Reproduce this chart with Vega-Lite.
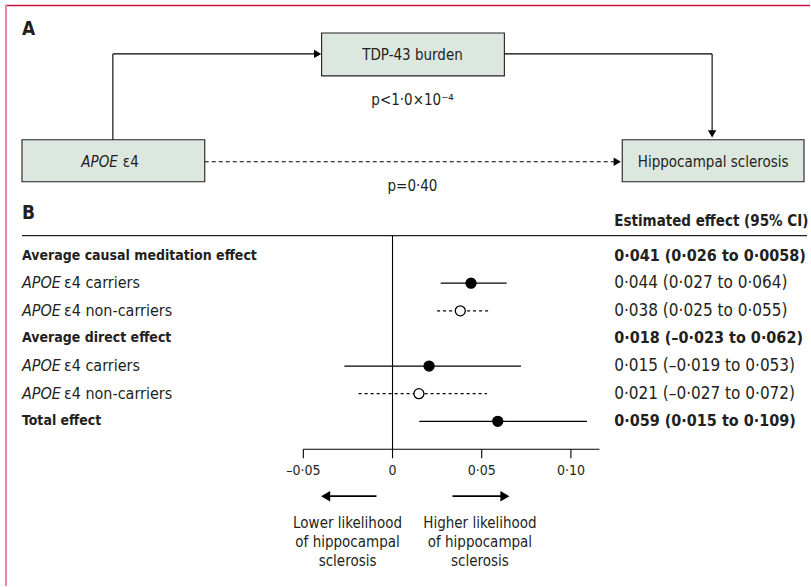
{
  "$schema": "https://vega.github.io/schema/vega-lite/v6.json",
  "width": 811,
  "height": 587,
  "autosize": {"type": "fit", "contains": "padding"},
  "padding": 0,
  "background": "white",
  "config": {
    "view": {"stroke": null},
    "font": "DejaVu Sans Condensed, sans-serif",
    "text": {"font": "DejaVu Sans Condensed, sans-serif", "color": "#231f20", "fontSize": 14}
  },
  "datasets": {
    "one": [{}],
    "boxes": [
      {"node": "TDP-43 burden", "x1": 322, "x2": 505, "y1": 33, "y2": 76},
      {"node": "APOE ε4", "x1": 22, "x2": 205, "y1": 140, "y2": 182},
      {"node": "Hippocampal sclerosis", "x1": 623, "x2": 805, "y1": 140, "y2": 182}
    ],
    "paths": [
      {"path": "mediated", "x1": 113, "y1": 140, "x2": 113, "y2": 54},
      {"path": "mediated", "x1": 113, "y1": 54, "x2": 318, "y2": 54},
      {"path": "mediated", "x1": 505, "y1": 54, "x2": 713, "y2": 54},
      {"path": "mediated", "x1": 713, "y1": 54, "x2": 713, "y2": 133},
      {"path": "direct", "x1": 205, "y1": 162, "x2": 616, "y2": 162}
    ],
    "heads": [
      {"dir": "right", "x": 318, "y": 54},
      {"dir": "down", "x": 713, "y": 134},
      {"dir": "right", "x": 618, "y": 162}
    ],
    "labelsA": [
      {"t": "TDP-43 burden", "x": 413, "y": 55},
      {"t": "Hippocampal sclerosis", "x": 714, "y": 162},
      {"t": "p<1·0×10⁻⁴", "x": 413, "y": 100},
      {"t": "p=0·40", "x": 413, "y": 186}
    ],
    "rows": [
      {"row": 1, "kind": "header", "label": "Average causal meditation effect", "group": "all", "ci": "0·041 (0·026 to 0·0058)"},
      {"row": 2, "kind": "sub", "label": "ε4 carriers", "group": "carriers", "est": 0.044, "lo": 0.027, "hi": 0.064, "ci": "0·044 (0·027 to 0·064)"},
      {"row": 3, "kind": "sub", "label": "ε4 non-carriers", "group": "non-carriers", "est": 0.038, "lo": 0.025, "hi": 0.055, "ci": "0·038 (0·025 to 0·055)"},
      {"row": 4, "kind": "header", "label": "Average direct effect", "group": "all", "ci": "0·018 (–0·023 to 0·062)"},
      {"row": 5, "kind": "sub", "label": "ε4 carriers", "group": "carriers", "est": 0.0205, "lo": -0.027, "hi": 0.072, "ci": "0·015 (–0·019 to 0·053)"},
      {"row": 6, "kind": "sub", "label": "ε4 non-carriers", "group": "non-carriers", "est": 0.0148, "lo": -0.019, "hi": 0.053, "ci": "0·021 (–0·027 to 0·072)"},
      {"row": 7, "kind": "header", "label": "Total effect", "group": "all", "est": 0.059, "lo": 0.015, "hi": 0.109, "ci": "0·059 (0·015 to 0·109)"}
    ],
    "ticks": [
      {"v": -0.05, "lab": "–0·05"},
      {"v": 0, "lab": "0"},
      {"v": 0.05, "lab": "0·05"},
      {"v": 0.1, "lab": "0·10"}
    ],
    "arrows": [
      {"side": "lower", "from": -0.009, "to": -0.0375, "mid": -0.0252, "t": "Lower likelihood\nof hippocampal\nsclerosis"},
      {"side": "higher", "from": 0.0336, "to": 0.063, "mid": 0.049, "t": "Higher likelihood\nof hippocampal\nsclerosis"}
    ]
  },
  "resolve": {"scale": {"x": "independent", "y": "independent", "shape": "independent", "fill": "independent", "strokeDash": "independent"}},
  "layer": [
    {
      "layer": [
        {
          "data": {"name": "boxes"},
          "mark": {"type": "rect", "fill": "#dce7df", "stroke": "#231f20", "strokeWidth": 1.1},
          "encoding": {
            "x": {"field": "x1", "type": "quantitative", "scale": {"domain": [0, 811], "nice": false, "zero": false}, "axis": null},
            "x2": {"field": "x2"},
            "y": {"field": "y1", "type": "quantitative", "scale": {"domain": [0, 587], "nice": false, "zero": false, "reverse": true}, "axis": null},
            "y2": {"field": "y2"}
          }
        },
        {
          "data": {"name": "paths"},
          "mark": {"type": "rule", "color": "#000000", "strokeWidth": 1.1},
          "encoding": {
            "x": {"field": "x1", "type": "quantitative", "scale": {"domain": [0, 811], "nice": false, "zero": false}, "axis": null},
            "x2": {"field": "x2"},
            "y": {"field": "y1", "type": "quantitative", "scale": {"domain": [0, 587], "nice": false, "zero": false, "reverse": true}, "axis": null},
            "y2": {"field": "y2"},
            "strokeDash": {"field": "path", "type": "nominal", "scale": {"domain": ["mediated", "direct"], "range": [[1, 0], [4, 3]]}, "legend": null}
          }
        },
        {
          "data": {"name": "heads"},
          "mark": {"type": "point", "filled": true, "color": "#000000", "size": 70, "opacity": 1},
          "encoding": {
            "x": {"field": "x", "type": "quantitative", "scale": {"domain": [0, 811], "nice": false, "zero": false}, "axis": null},
            "y": {"field": "y", "type": "quantitative", "scale": {"domain": [0, 587], "nice": false, "zero": false, "reverse": true}, "axis": null},
            "shape": {"field": "dir", "type": "nominal", "scale": {"domain": ["right", "down"], "range": ["triangle-right", "triangle-down"]}, "legend": null}
          }
        },
        {
          "data": {"name": "labelsA"},
          "mark": {"type": "text", "align": "center", "baseline": "middle", "fontSize": 15},
          "encoding": {
            "x": {"field": "x", "type": "quantitative", "scale": {"domain": [0, 811], "nice": false, "zero": false}, "axis": null},
            "y": {"field": "y", "type": "quantitative", "scale": {"domain": [0, 587], "nice": false, "zero": false, "reverse": true}, "axis": null},
            "text": {"field": "t"}
          }
        },
        {
          "data": {"name": "one"},
          "mark": {"type": "text", "text": "APOE", "align": "right", "baseline": "middle", "fontSize": 15, "fontStyle": "italic"},
          "encoding": {"x": {"datum": 118, "type": "quantitative"}, "y": {"datum": 162, "type": "quantitative"}}
        },
        {
          "data": {"name": "one"},
          "mark": {"type": "text", "text": "ε4", "align": "left", "baseline": "middle", "fontSize": 15},
          "encoding": {"x": {"datum": 123, "type": "quantitative"}, "y": {"datum": 162, "type": "quantitative"}}
        },
        {
          "data": {"name": "one"},
          "mark": {"type": "text", "text": "A", "align": "left", "baseline": "middle", "fontSize": 19, "fontWeight": "bold"},
          "encoding": {"x": {"datum": 22, "type": "quantitative"}, "y": {"datum": 29, "type": "quantitative"}}
        },
        {
          "data": {"name": "one"},
          "mark": {"type": "text", "text": "B", "align": "left", "baseline": "middle", "fontSize": 19, "fontWeight": "bold"},
          "encoding": {"x": {"datum": 22, "type": "quantitative"}, "y": {"datum": 213, "type": "quantitative"}}
        },
        {
          "data": {"name": "one"},
          "mark": {"type": "text", "text": "Estimated effect (95% CI)", "align": "left", "baseline": "middle", "fontSize": 15, "fontWeight": "bold"},
          "encoding": {"x": {"datum": 615, "type": "quantitative"}, "y": {"datum": 221, "type": "quantitative"}}
        },
        {
          "data": {"name": "one"},
          "mark": {"type": "rule", "color": "#231f20", "strokeWidth": 1.2},
          "encoding": {"x": {"datum": 22, "type": "quantitative"}, "x2": {"datum": 808}, "y": {"datum": 236, "type": "quantitative"}}
        },
        {
          "data": {"name": "one"},
          "mark": {"type": "rule", "color": "#c4163f", "strokeWidth": 1.5},
          "encoding": {"x": {"datum": 5, "type": "quantitative"}, "x2": {"datum": 811}, "y": {"datum": 5.5, "type": "quantitative"}}
        },
        {
          "data": {"name": "one"},
          "mark": {"type": "rule", "color": "#e48aa2", "strokeWidth": 2},
          "encoding": {"x": {"datum": 6, "type": "quantitative"}, "y": {"datum": 5, "type": "quantitative"}, "y2": {"datum": 587}}
        }
      ]
    },
    {
      "layer": [
        {
          "data": {"name": "one"},
          "mark": {"type": "rule", "color": "#000000", "strokeWidth": 1.1},
          "encoding": {
            "x": {"datum": -0.05, "type": "quantitative", "scale": {"domain": [-0.22004, 0.23404], "nice": false, "zero": false}, "axis": null},
            "x2": {"datum": 0.116},
            "y": {"datum": 450, "type": "quantitative", "scale": {"domain": [0, 587], "nice": false, "zero": false, "reverse": true}, "axis": null}
          }
        },
        {
          "data": {"name": "one"},
          "mark": {"type": "rule", "color": "#000000", "strokeWidth": 1.1},
          "encoding": {
            "x": {"datum": 0, "type": "quantitative"},
            "y": {"datum": 236, "type": "quantitative"},
            "y2": {"datum": 450}
          }
        },
        {
          "data": {"name": "ticks"},
          "mark": {"type": "rule", "color": "#000000", "strokeWidth": 1.1},
          "encoding": {
            "x": {"field": "v", "type": "quantitative"},
            "y": {"datum": 450, "type": "quantitative"},
            "y2": {"datum": 459}
          }
        },
        {
          "data": {"name": "ticks"},
          "mark": {"type": "text", "align": "center", "baseline": "middle", "fontSize": 14},
          "encoding": {
            "x": {"field": "v", "type": "quantitative"},
            "y": {"datum": 472, "type": "quantitative"},
            "text": {"field": "lab"}
          }
        },
        {
          "data": {"name": "arrows"},
          "mark": {"type": "rule", "color": "#000000", "strokeWidth": 1.8},
          "encoding": {
            "x": {"field": "from", "type": "quantitative"},
            "x2": {"field": "to"},
            "y": {"datum": 497, "type": "quantitative"}
          }
        },
        {
          "data": {"name": "arrows"},
          "mark": {"type": "point", "filled": true, "color": "#000000", "size": 110, "opacity": 1},
          "encoding": {
            "x": {"field": "to", "type": "quantitative"},
            "y": {"datum": 497, "type": "quantitative"},
            "shape": {"field": "side", "type": "nominal", "scale": {"domain": ["lower", "higher"], "range": ["triangle-left", "triangle-right"]}, "legend": null}
          }
        },
        {
          "data": {"name": "arrows"},
          "mark": {"type": "text", "align": "center", "baseline": "top", "fontSize": 15, "lineBreak": "\n", "lineHeight": 19},
          "encoding": {
            "x": {"field": "mid", "type": "quantitative"},
            "y": {"datum": 517, "type": "quantitative"},
            "text": {"field": "t"}
          }
        }
      ]
    },
    {
      "data": {"name": "rows"},
      "transform": [{"filter": "isValid(datum.est)"}],
      "layer": [
        {
          "mark": {"type": "rule", "color": "#000000", "strokeWidth": 1.3},
          "encoding": {
            "x": {"field": "lo", "type": "quantitative", "scale": {"domain": [-0.22004, 0.23404], "nice": false, "zero": false}, "axis": null},
            "x2": {"field": "hi"},
            "y": {"field": "row", "type": "quantitative", "scale": {"domain": [-8.252, 12.963], "nice": false, "zero": false, "reverse": true}, "axis": null},
            "strokeDash": {"field": "group", "type": "nominal", "scale": {"domain": ["carriers", "non-carriers", "all"], "range": [[1, 0], [3, 3], [1, 0]]}, "legend": null}
          }
        },
        {
          "mark": {"type": "point", "shape": "circle", "stroke": "#000000", "strokeWidth": 1.3, "size": 100, "opacity": 1},
          "encoding": {
            "x": {"field": "est", "type": "quantitative"},
            "y": {"field": "row", "type": "quantitative"},
            "fill": {"field": "group", "type": "nominal", "scale": {"domain": ["carriers", "non-carriers", "all"], "range": ["#000000", "#ffffff", "#000000"]}, "legend": null}
          }
        }
      ]
    },
    {
      "data": {"name": "rows"},
      "layer": [
        {
          "transform": [{"filter": "datum.kind == 'header'"}],
          "mark": {"type": "text", "align": "left", "baseline": "middle", "fontSize": 14, "fontWeight": "bold"},
          "encoding": {
            "x": {"datum": 22, "type": "quantitative", "scale": {"domain": [0, 811], "nice": false, "zero": false}, "axis": null},
            "y": {"field": "row", "type": "quantitative", "scale": {"domain": [-8.252, 12.963], "nice": false, "zero": false, "reverse": true}, "axis": null},
            "text": {"field": "label"}
          }
        },
        {
          "transform": [{"filter": "datum.kind == 'sub'"}],
          "mark": {"type": "text", "text": "APOE", "align": "left", "baseline": "middle", "fontSize": 16, "fontStyle": "italic"},
          "encoding": {
            "x": {"datum": 22, "type": "quantitative"},
            "y": {"field": "row", "type": "quantitative"}
          }
        },
        {
          "transform": [{"filter": "datum.kind == 'sub'"}],
          "mark": {"type": "text", "align": "left", "baseline": "middle", "fontSize": 16},
          "encoding": {
            "x": {"datum": 64, "type": "quantitative"},
            "y": {"field": "row", "type": "quantitative"},
            "text": {"field": "label"}
          }
        },
        {
          "transform": [{"filter": "datum.kind == 'header'"}],
          "mark": {"type": "text", "align": "left", "baseline": "middle", "fontSize": 16, "fontWeight": "bold"},
          "encoding": {
            "x": {"datum": 615, "type": "quantitative"},
            "y": {"field": "row", "type": "quantitative"},
            "text": {"field": "ci"}
          }
        },
        {
          "transform": [{"filter": "datum.kind == 'sub'"}],
          "mark": {"type": "text", "align": "left", "baseline": "middle", "fontSize": 17},
          "encoding": {
            "x": {"datum": 615, "type": "quantitative"},
            "y": {"field": "row", "type": "quantitative"},
            "text": {"field": "ci"}
          }
        }
      ]
    }
  ]
}
